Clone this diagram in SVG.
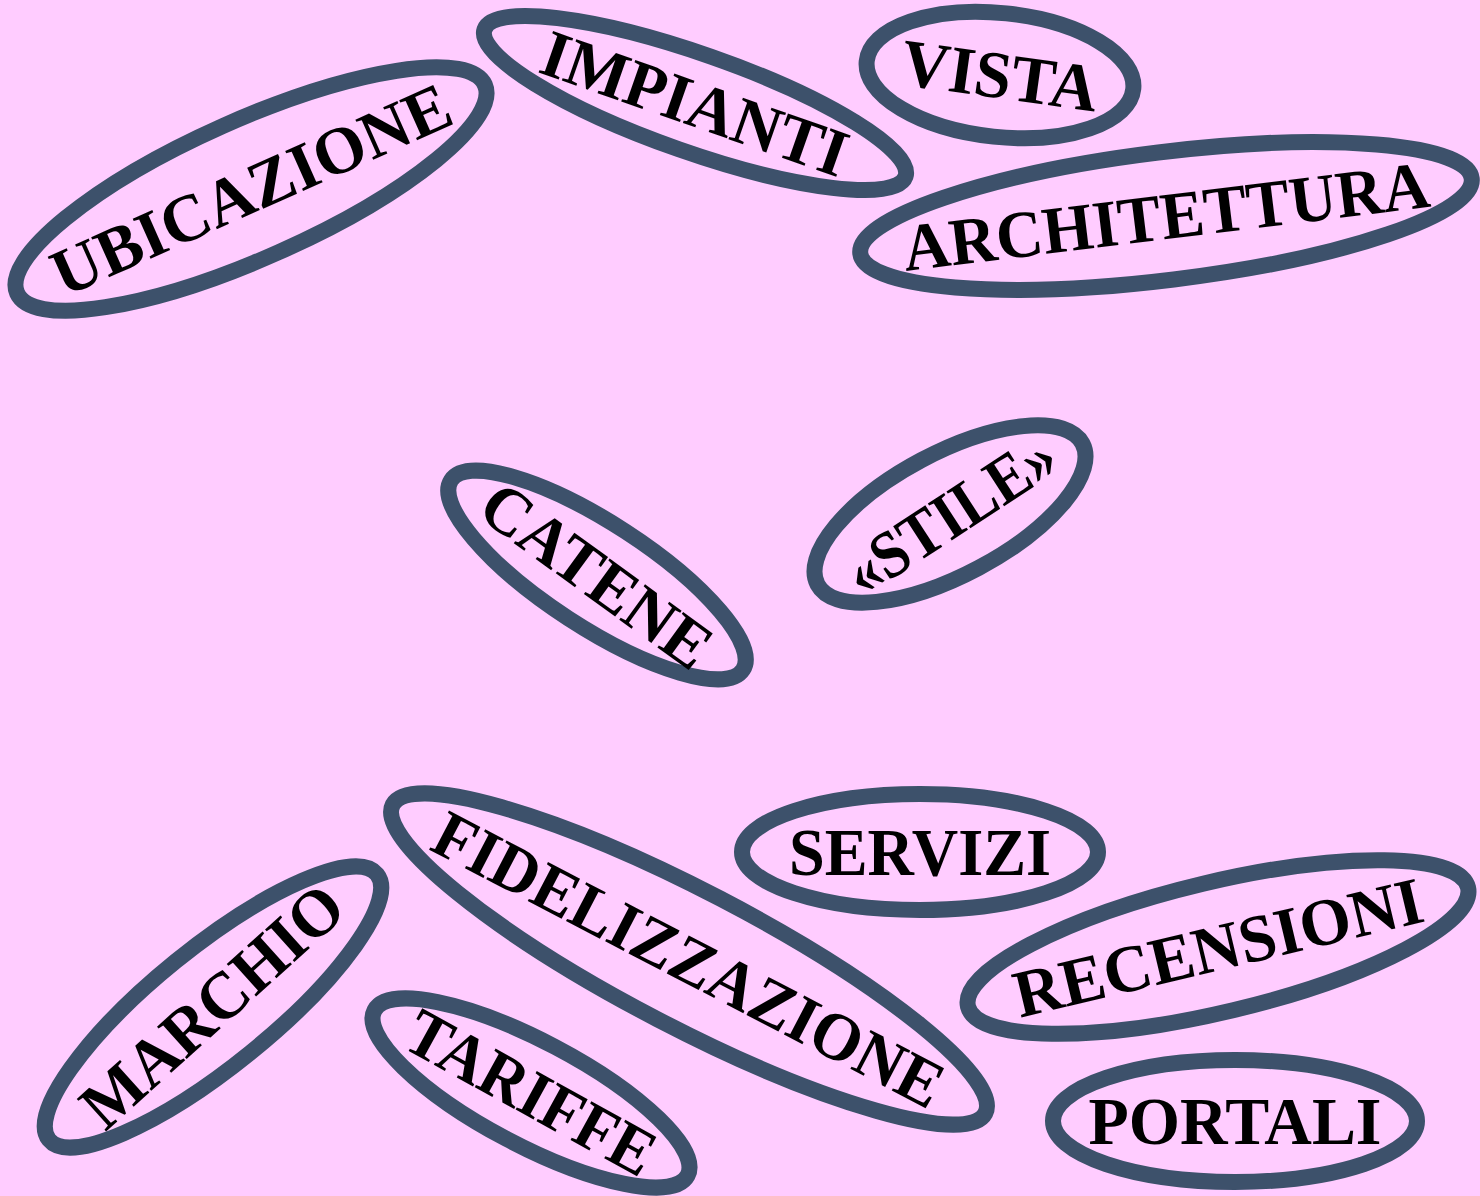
<svg xmlns="http://www.w3.org/2000/svg" width="1480" height="1196" viewBox="0 0 1480 1196">
<style>
.n ellipse{fill:none;stroke:#3D516B;stroke-width:16}
.n text{font-family:"Liberation Serif","Times New Roman",serif;font-weight:bold;font-size:67px;fill:#000;text-anchor:middle}
</style>
<rect width="1480" height="1196" fill="#FFCCFF"/>
<g id="connectors"/>
<g id="ubicazione" class="n" transform="translate(251,189) rotate(-24)"><ellipse rx="256" ry="69"/><text x="0" y="23" textLength="430" lengthAdjust="spacingAndGlyphs">UBICAZIONE</text></g>
<g id="impianti" class="n" transform="translate(695,103) rotate(19.3)"><ellipse rx="223" ry="49"/><text x="0" y="23" textLength="320" lengthAdjust="spacingAndGlyphs">IMPIANTI</text></g>
<g id="vista" class="n" transform="translate(1000,75) rotate(6)"><ellipse rx="134" ry="62"/><text x="0" y="23" textLength="198" lengthAdjust="spacingAndGlyphs" transform="rotate(2)">VISTA</text></g>
<g id="architettura" class="n" transform="translate(1166,216) rotate(-7)"><ellipse rx="308" ry="64"/><text x="0" y="23" textLength="530" lengthAdjust="spacingAndGlyphs">ARCHITETTURA</text></g>
<g id="catene" class="n" transform="translate(597,575) rotate(33)"><ellipse rx="174" ry="52"/><text x="0" y="23" textLength="268" lengthAdjust="spacingAndGlyphs" transform="rotate(3)">CATENE</text></g>
<g id="stile" class="n" transform="translate(950,514) rotate(-28)"><ellipse rx="150" ry="61"/><text x="0" y="23" textLength="238" lengthAdjust="spacingAndGlyphs" transform="rotate(-5)">«STILE»</text></g>
<g id="fidelizzazione" class="n" transform="translate(689,959) rotate(27.5)"><ellipse rx="334" ry="68"/><text x="0" y="23" textLength="565" lengthAdjust="spacingAndGlyphs">FIDELIZZAZIONE</text></g>
<g id="servizi" class="n" transform="translate(920,852)"><ellipse rx="178" ry="58"/><text x="0" y="23" textLength="262" lengthAdjust="spacingAndGlyphs">SERVIZI</text></g>
<g id="recensioni" class="n" transform="translate(1218,947) rotate(-13.4)"><ellipse rx="257" ry="65"/><text x="0" y="23" textLength="418" lengthAdjust="spacingAndGlyphs">RECENSIONI</text></g>
<g id="marchio" class="n" transform="translate(213,1007) rotate(-39)"><ellipse rx="211" ry="59"/><text x="0" y="21" textLength="328" lengthAdjust="spacingAndGlyphs" transform="rotate(-3)">MARCHIO</text></g>
<g id="tariffe" class="n" transform="translate(531,1093) rotate(27.8)"><ellipse rx="177" ry="52"/><text x="0" y="22" textLength="274" lengthAdjust="spacingAndGlyphs" transform="rotate(1)">TARIFFE</text></g>
<g id="portali" class="n" transform="translate(1235,1121)"><ellipse rx="182" ry="61"/><text x="0" y="23" textLength="293" lengthAdjust="spacingAndGlyphs">PORTALI</text></g>
</svg>
